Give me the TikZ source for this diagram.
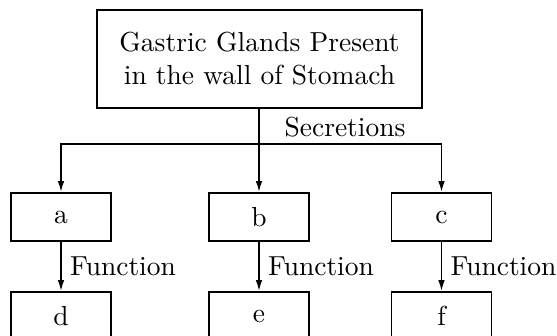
\documentclass[tikz,border=0pt]{standalone}
\usepackage{tikz}
\usetikzlibrary{arrows.meta}
\usetikzlibrary{calc}
\tikzstyle{g} = [rectangle, draw, semithick, minimum width=118.2pt, minimum height=35.6pt, align=center, inner sep=0pt]
\tikzstyle{s} = [rectangle, draw, semithick, minimum width=36.4pt, minimum height=17.5pt, inner sep=0pt]
\tikzstyle{arr} = [semithick, -{Latex[length=4pt,width=2.4pt]}]

\begin{document}
\begin{tikzpicture}[x=0.3636pt,y=-0.3636pt]
		\useasboundingbox (0,0) rectangle (557,336);
		\node[g] (top) at (259.5,59) {Gastric Glands Present\\in the wall of Stomach};
		\node[s] (a) at (61,217) {a};
		\node[s] (b) at (259,217) {b};
		\node[s] (c) at (441.5,217) {c};
		\node[s] (d) at (61,316) {d};
		\node[s] (e) at (259,316) {e};
		\node[s] (f) at (441.5,316) {f};
		\coordinate (split) at (259,144);
		\draw[arr] (top.south -| b) -- (b);
		\draw[arr] (split) -| (a);
		\draw[arr] (split) -| (c);
		\node (sec) at (345,127) {Secretions};
		\foreach \from/\to in {a/d,b/e,c/f}
		\draw[arr] (\from) -- node[right, inner sep=3pt] {Function} (\to);
	\end{tikzpicture}
\end{document}
